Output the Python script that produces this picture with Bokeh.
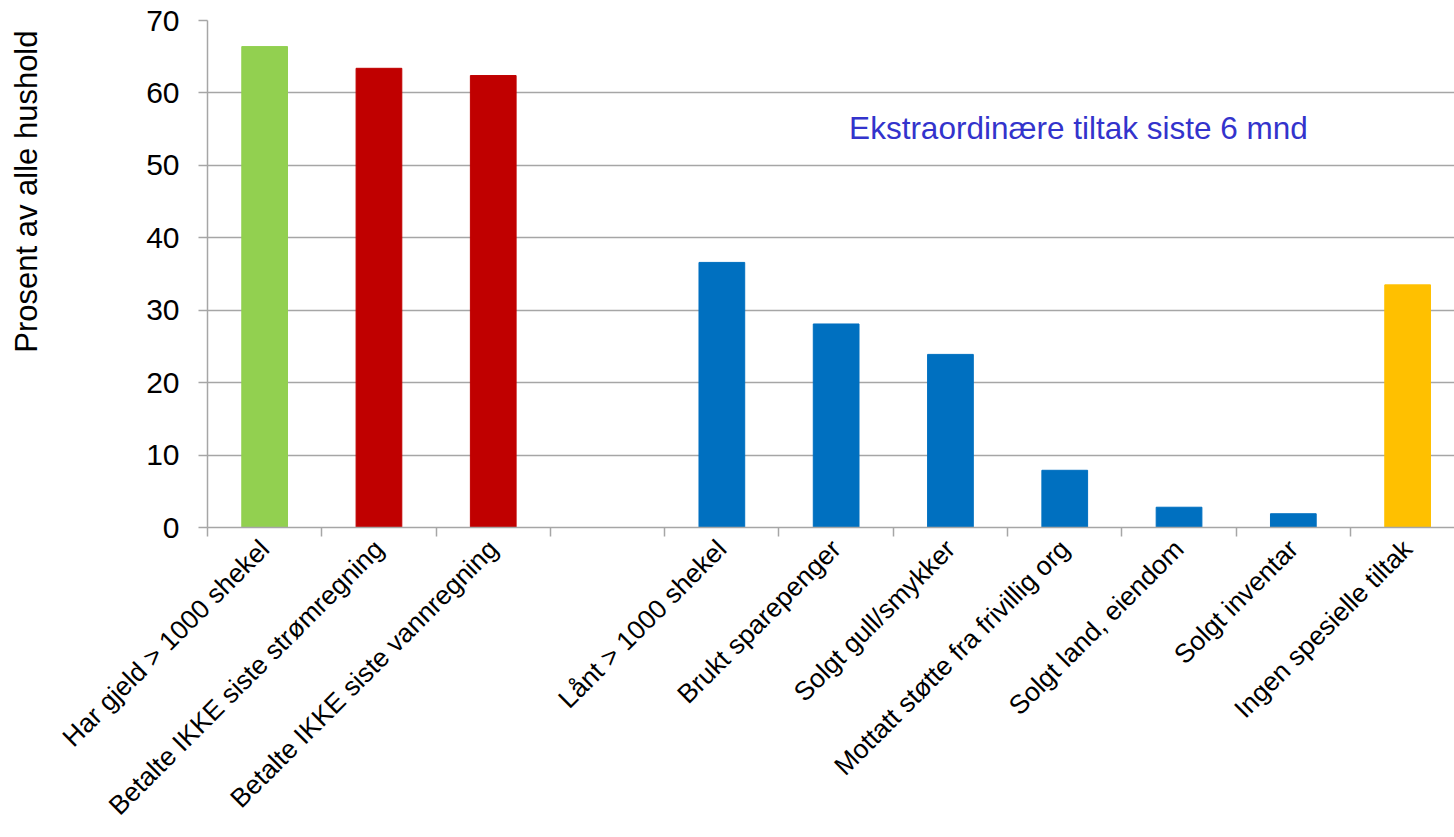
from bokeh.plotting import figure
from bokeh.models import Range1d, FixedTicker, Label, ColumnDataSource, LinearAxis, Title
from bokeh.embed import file_html
from bokeh.resources import INLINE
import math

categories = [
    "Har gjeld > 1000 shekel",
    "Betalte IKKE siste strømregning",
    "Betalte IKKE siste vannregning",
    "",
    "Lånt > 1000 shekel",
    "Brukt sparepenger",
    "Solgt gull/smykker",
    "Mottatt støtte fra frivillig org",
    "Solgt land, eiendom",
    "Solgt inventar",
    "Ingen spesielle tiltak",
]
values = [66.4, 63.4, 62.4, None, 36.6, 28.1, 23.9, 7.9, 2.8, 1.9, 33.5]
colors = ["#92D050", "#C00000", "#C00000", None, "#0070C0", "#0070C0",
          "#0070C0", "#0070C0", "#0070C0", "#0070C0", "#FFC000"]
y_ticks = [0, 10, 20, 30, 40, 50, 60, 70]
y_title = "Prosent av alle hushold"
note = "Ekstraordinære tiltak siste 6 mnd"

FONT = "Liberation Sans"
GRID = "#A6A6A6"

xs, tops, cols = [], [], []
for i, (v, c) in enumerate(zip(values, colors)):
    if v is not None:
        xs.append(i + 0.5)
        tops.append(v)
        cols.append(c)
src = ColumnDataSource(dict(x=xs, top=tops, color=cols))

p = figure(width=1454, height=837, output_backend="svg", toolbar_location=None,
           x_range=Range1d(0, 10.91), y_range=Range1d(0, 70),
           min_border_left=207, min_border_right=0, min_border_top=20,
           min_border_bottom=310)
p.outline_line_color = None
p.background_fill_color = "white"
p.border_fill_color = "white"

p.vbar(x="x", top="top", width=0.4, bottom=0, color="color", source=src)

# x axis
centers = [i + 0.5 for i in range(len(categories))]
bounds = [float(i) for i in range(len(categories) + 1)]
p.xaxis.ticker = FixedTicker(ticks=centers, minor_ticks=bounds)
p.xaxis.major_label_overrides = {c: n for c, n in zip(centers, categories)}
p.xaxis.major_label_orientation = math.pi / 4
p.xaxis.major_tick_line_color = None
p.xaxis.minor_tick_line_color = GRID
p.xaxis.minor_tick_line_width = 1.5
p.xaxis.minor_tick_out = 9
p.xaxis.minor_tick_in = 0
p.xaxis.axis_line_color = GRID
p.xaxis.axis_line_width = 1.5
p.xaxis.major_label_text_font = FONT
p.xaxis.major_label_text_font_size = "26.5px"
p.xaxis.major_label_text_color = "black"
p.xaxis.major_label_standoff = 8
p.xgrid.grid_line_color = None

# y axis
p.yaxis.ticker = FixedTicker(ticks=y_ticks)
p.yaxis.minor_tick_line_color = None
p.yaxis.major_tick_line_color = GRID
p.yaxis.major_tick_line_width = 1.5
p.yaxis.major_tick_out = 9
p.yaxis.major_tick_in = 0
p.yaxis.axis_line_color = GRID
p.yaxis.axis_line_width = 1.5
p.yaxis.major_label_text_font = FONT
p.yaxis.major_label_text_font_size = "30px"
p.yaxis.major_label_text_color = "black"
p.yaxis.major_label_standoff = 19
p.ygrid.grid_line_color = GRID
p.ygrid.grid_line_width = 1.5

# empty spacer axis, then the y title aligned towards the top
spacer = LinearAxis(ticker=FixedTicker(ticks=[]), axis_line_color=None,
                    major_tick_line_color=None, minor_tick_line_color=None,
                    major_tick_out=0, minor_tick_out=0)
spacer.axis_label = "\u00a0"
spacer.axis_label_text_font = FONT
spacer.axis_label_text_font_size = "31px"
spacer.axis_label_standoff = 57
p.add_layout(spacer, "left")

p.add_layout(Title(text=y_title, align="right", offset=10, standoff=10,
                   text_font=FONT, text_font_size="31px",
                   text_font_style="normal", text_color="black"), "left")

p.add_layout(Label(x=7.62, y=55.1, text=note, text_align="center",
                   text_baseline="middle", text_font=FONT,
                   text_font_size="31.5px", text_color="#3333CC"))

open("out.html", "w").write(file_html(p, INLINE))
